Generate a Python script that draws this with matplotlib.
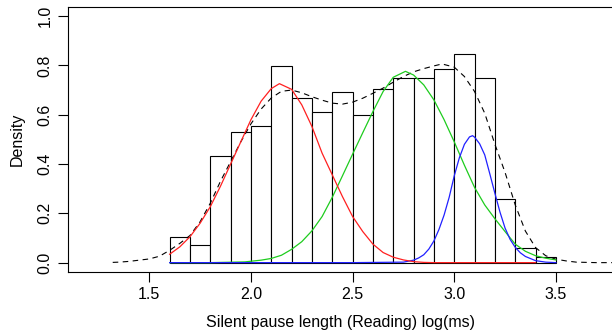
import numpy as np
import matplotlib.pyplot as plt

plt.rcParams['font.family'] = ['Liberation Sans', 'DejaVu Sans']

# Histogram (bin width 0.1, density scale)
bin_edges = [1.6, 1.7, 1.8, 1.9, 2.0, 2.1, 2.2, 2.3, 2.4, 2.5, 2.6,
             2.7, 2.8, 2.9, 3.0, 3.1, 3.2, 3.3, 3.4, 3.5]
bin_density = [0.105, 0.072, 0.434, 0.529, 0.553, 0.797, 0.668, 0.610, 0.694,
               0.600, 0.703, 0.750, 0.750, 0.787, 0.845, 0.750, 0.260, 0.058, 0.023]

# Mixture components
red_x = [1.6, 1.65, 1.7, 1.75, 1.8, 1.85, 1.9, 1.95, 2.0, 2.05, 2.1, 2.14, 2.2,
         2.25, 2.3, 2.35, 2.4, 2.45, 2.5, 2.55, 2.6, 2.65, 2.7, 2.75, 2.8, 2.85,
         2.9, 3.0, 3.2, 3.4]
red_y = [0.034, 0.064, 0.105, 0.160, 0.227, 0.310, 0.400, 0.490, 0.580, 0.655,
         0.706, 0.726, 0.703, 0.640, 0.552, 0.444, 0.356, 0.268, 0.187, 0.126,
         0.075, 0.041, 0.022, 0.011, 0.004, 0.001, 0.0, 0.0, 0.0, 0.0]

green_x = [1.6, 1.8, 1.97, 2.05, 2.1, 2.15, 2.2, 2.25, 2.3, 2.35, 2.4, 2.45, 2.5,
           2.55, 2.6, 2.65, 2.7, 2.76, 2.8, 2.85, 2.9, 2.95, 3.0, 3.05, 3.1,
           3.15, 3.2, 3.25, 3.3, 3.35, 3.4, 3.45, 3.5]
green_y = [0.0, 0.0, 0.003, 0.010, 0.017, 0.030, 0.054, 0.085, 0.129, 0.187,
           0.265, 0.352, 0.440, 0.527, 0.613, 0.694, 0.752, 0.776, 0.761, 0.721,
           0.660, 0.580, 0.490, 0.395, 0.305, 0.234, 0.178, 0.126, 0.075, 0.046,
           0.028, 0.018, 0.011]

blue_x = [1.6, 2.0, 2.5, 2.75, 2.8, 2.825, 2.85, 2.875, 2.9, 2.925, 2.95, 2.975,
          3.0, 3.025, 3.05, 3.075, 3.09, 3.1, 3.125, 3.15, 3.175, 3.2, 3.225,
          3.25, 3.275, 3.3, 3.325, 3.35, 3.4, 3.45, 3.5]
blue_y = [0.0, 0.0, 0.0, 0.002, 0.010, 0.019, 0.032, 0.055, 0.088, 0.135, 0.193,
          0.265, 0.352, 0.425, 0.480, 0.510, 0.515, 0.509, 0.482, 0.437, 0.360,
          0.281, 0.205, 0.140, 0.094, 0.062, 0.040, 0.025, 0.008, 0.002, 0.0]

# Kernel density estimate (dashed)
kde_x = [1.32, 1.35, 1.4, 1.45, 1.5, 1.55, 1.6, 1.65, 1.7, 1.75, 1.8, 1.85, 1.9,
         1.95, 2.0, 2.05, 2.1, 2.15, 2.2, 2.25, 2.3, 2.35, 2.4, 2.45, 2.5, 2.55,
         2.6, 2.65, 2.7, 2.75, 2.8, 2.85, 2.9, 2.94, 3.0, 3.05, 3.1, 3.15, 3.2,
         3.25, 3.3, 3.35, 3.4, 3.45, 3.5, 3.55, 3.6, 3.65, 3.7, 3.78]
kde_y = [0.001, 0.002, 0.005, 0.010, 0.015, 0.026, 0.050, 0.078, 0.110, 0.166,
         0.241, 0.330, 0.410, 0.490, 0.563, 0.623, 0.668, 0.695, 0.700, 0.689,
         0.673, 0.659, 0.647, 0.643, 0.651, 0.667, 0.687, 0.708, 0.732, 0.755,
         0.774, 0.787, 0.798, 0.806, 0.793, 0.755, 0.694, 0.606, 0.480, 0.366,
         0.234, 0.128, 0.061, 0.028, 0.014, 0.007, 0.002, 0.001, 0.0, 0.0]

fig = plt.figure(figsize=(6.12, 3.35), dpi=100)
ax = fig.add_axes([68 / 612, 63 / 335, 544 / 612, 265 / 335])

widths = np.diff(bin_edges)
ax.bar(bin_edges[:-1], bin_density, width=widths, align='edge',
       facecolor='white', edgecolor='black', linewidth=0.8, zorder=1)

ax.plot(kde_x, kde_y, color='black', linestyle=(0, (5, 4)), linewidth=0.8, zorder=2)
ax.plot(green_x, green_y, color='#1ecc1e', linewidth=0.9, zorder=3)
ax.plot(blue_x, blue_y, color='#2020ff', linewidth=0.9, zorder=4)
ax.plot(red_x, red_y, color='#ff2020', linewidth=0.9, zorder=5)

ax.set_xlim(1.1, 3.776)
ax.set_ylim(-0.038, 1.037)
ax.set_xticks([1.5, 2.0, 2.5, 3.0, 3.5])
ax.set_yticks([0.0, 0.2, 0.4, 0.6, 0.8, 1.0])
ax.set_xticklabels(['1.5', '2.0', '2.5', '3.0', '3.5'])
ax.set_yticklabels(['0.0', '0.2', '0.4', '0.6', '0.8', '1.0'], rotation=90, va='center')
ax.tick_params(axis='both', labelsize=11.5, length=7, width=0.8, pad=4)

ax.spines['right'].set_visible(False)
for s in ['left', 'top', 'bottom']:
    ax.spines[s].set_linewidth(0.8)

ax.set_xlabel('Silent pause length (Reading) log(ms)', fontsize=11.5, labelpad=9)
ax.set_ylabel('Density', fontsize=11.5, labelpad=9)

fig.savefig('out.png', dpi=100)
